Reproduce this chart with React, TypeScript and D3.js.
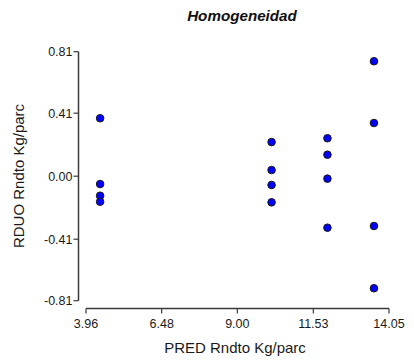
import React from "react";
import * as d3 from "d3";

const xTicks = [3.96, 6.48, 9.0, 11.53, 14.05];
const yTicks = [-0.81, -0.41, 0.0, 0.41, 0.81];
const predX = [4.43, 4.43, 4.43, 4.43, 10.14, 10.14, 10.14, 10.14, 12.0, 12.0, 12.0, 12.0, 13.55, 13.55, 13.55, 13.55];
const residY = [0.377, -0.051, -0.127, -0.166, 0.222, 0.04, -0.057, -0.17, 0.247, 0.14, -0.016, -0.335, 0.748, 0.346, -0.324, -0.729];

export default function App() {
  const W = 414, H = 361;
  const x = d3.scaleLinear().domain([3.96, 14.05]).range([86, 389]);
  const y = d3.scaleLinear().domain([-0.81, 0.81]).range([300.7, 51.7]);
  const axisX = 78.5;
  const axisY = 308.5;
  const font = "'Liberation Sans', Arial, sans-serif";
  const axisColor = "#3a3a3a";
  return (
    <svg width={W} height={H} style={{ position: "absolute", left: 0, top: 0, background: "#fff" }} fontFamily={font}>
      <text x={242} y={21} textAnchor="middle" fontSize={15.2} fontWeight="bold" fontStyle="italic" fill="#111">Homogeneidad</text>
      {/* Y axis */}
      <line x1={axisX} x2={axisX} y1={y(0.81)} y2={y(-0.81)} stroke={axisColor} strokeWidth={1.5} />
      {yTicks.map((t, i) => (
        <g key={"yt" + i}>
          <line x1={axisX - 5} x2={axisX} y1={y(t)} y2={y(t)} stroke={axisColor} strokeWidth={1.2} />
          <text x={axisX - 6} y={y(t)} dy="0.35em" textAnchor="end" fontSize={12.5} fill="#1a1a1a">{t.toFixed(2)}</text>
        </g>
      ))}
      {/* X axis */}
      <line x1={x(3.96)} x2={x(14.05)} y1={axisY} y2={axisY} stroke={axisColor} strokeWidth={1.5} />
      {xTicks.map((t, i) => (
        <g key={"xt" + i}>
          <line x1={x(t)} x2={x(t)} y1={axisY} y2={axisY + 5} stroke={axisColor} strokeWidth={1.2} />
          <text x={x(t)} y={328} textAnchor="middle" fontSize={12.5} fill="#1a1a1a">{t.toFixed(2)}</text>
        </g>
      ))}
      <text x={235} y={353} textAnchor="middle" fontSize={15} fill="#1a1a1a">PRED Rndto Kg/parc</text>
      <text transform={`translate(24,${176}) rotate(-90)`} textAnchor="middle" fontSize={15} fill="#1a1a1a">RDUO Rndto Kg/parc</text>
      {predX.map((v, i) => (
        <circle key={"p" + i} cx={x(v)} cy={y(residY[i])} r={3.8} fill="#0000ff" stroke="#1a1a1a" strokeWidth={1} />
      ))}
    </svg>
  );
}
